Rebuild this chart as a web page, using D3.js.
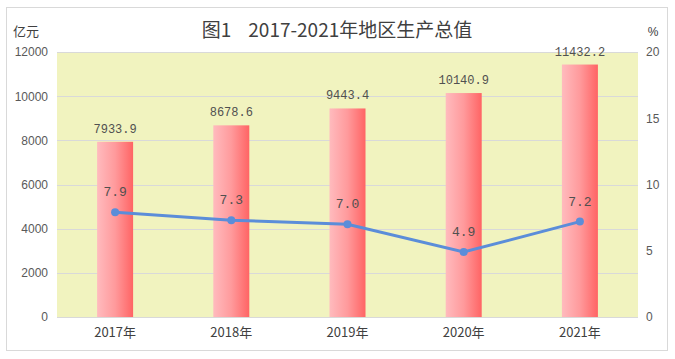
<!DOCTYPE html>
<html><head><meta charset="utf-8">
<script src="https://cdn.jsdelivr.net/npm/d3@7"></script>
<style>body{margin:0;background:#fff}svg{display:block}</style>
</head><body><svg id="c" width="675" height="359"></svg>
<script>
const categories = ["2017年","2018年","2019年","2020年","2021年"];
const gdp = [7933.9, 8678.6, 9443.4, 10140.9, 11432.2];
const gdpLabels = ["7933.9","8678.6","9443.4","10140.9","11432.2"];
const growth = [7.9, 7.3, 7.0, 4.9, 7.2];
const growthLabels = ["7.9","7.3","7.0","4.9","7.2"];
const leftTicks = [0,2000,4000,6000,8000,10000,12000];
const rightTicks = [0,5,10,15,20];

const svg = d3.select("#c");
const m = {l:57, r:638, t:52, b:317};
const font = "'Liberation Sans', Arial, sans-serif";
const cjk = "'Noto Sans CJK SC', sans-serif";
const mono = "'Liberation Mono', monospace";

svg.append("rect").attr("x",6.5).attr("y",7.5).attr("width",661).attr("height",343)
  .attr("fill","#fff").attr("stroke","#d9d9d9");

const x = d3.scaleBand().domain(categories).range([m.l,m.r]);
const yL = d3.scaleLinear().domain([0,12000]).range([m.b,m.t]);
const yR = d3.scaleLinear().domain([0,20]).range([m.b,m.t]);

const defs = svg.append("defs");
const g = defs.append("linearGradient").attr("id","bg").attr("x1","0").attr("x2","1").attr("y1","0").attr("y2","0");
g.append("stop").attr("offset","0").attr("stop-color","#FFBBBE");
g.append("stop").attr("offset","0.5").attr("stop-color","#FF9A9C");
g.append("stop").attr("offset","1").attr("stop-color","#FF6464");

svg.append("rect").attr("x",m.l).attr("y",m.t).attr("width",m.r-m.l).attr("height",m.b-m.t).attr("fill","#F1F3BF");

svg.append("g").selectAll("line").data(leftTicks).join("line")
  .attr("x1",m.l).attr("x2",m.r).attr("y1",d=>Math.round(yL(d))+0.5).attr("y2",d=>Math.round(yL(d))+0.5)
  .attr("stroke","#d9d9d9").attr("stroke-width",1);

const bw = 36;
svg.append("g").selectAll("rect").data(gdp).join("rect")
  .attr("x",(d,i)=>x(categories[i])+x.bandwidth()/2-bw/2)
  .attr("y",d=>yL(d)).attr("width",bw).attr("height",d=>m.b-yL(d))
  .attr("fill","url(#bg)");

svg.append("line").attr("x1",m.l).attr("x2",m.r).attr("y1",m.b+0.5).attr("y2",m.b+0.5).attr("stroke","#d9d9d9");

svg.append("g").selectAll("text").data(gdp).join("text")
  .attr("x",(d,i)=>x(categories[i])+x.bandwidth()/2).attr("y",d=>yL(d)-9)
  .attr("text-anchor","middle").attr("font-family",mono).attr("font-size",12)
  .attr("fill","#505050").text((d,i)=>gdpLabels[i]);

const line = d3.line().x((d,i)=>x(categories[i])+x.bandwidth()/2).y(d=>yR(d));
svg.append("path").datum(growth).attr("d",line).attr("fill","none").attr("stroke","#5B8DD9").attr("stroke-width",3);
svg.append("g").selectAll("circle").data(growth).join("circle")
  .attr("cx",(d,i)=>x(categories[i])+x.bandwidth()/2).attr("cy",d=>yR(d)).attr("r",4).attr("fill","#5B8DD9");
svg.append("g").selectAll("text").data(growth).join("text")
  .attr("x",(d,i)=>x(categories[i])+x.bandwidth()/2).attr("y",d=>yR(d)-16)
  .attr("text-anchor","middle").attr("font-family",mono).attr("font-size",13)
  .attr("fill","#505050").text((d,i)=>growthLabels[i]);

const la = d3.axisLeft(yL).tickValues(leftTicks).tickFormat(d3.format("d")).tickSize(0).tickPadding(9);
const lg = svg.append("g").attr("transform",`translate(${m.l},0)`).call(la);
lg.select(".domain").remove();
lg.selectAll("text").attr("font-family",font).attr("font-size",12).attr("fill","#595959");

const ra = d3.axisRight(yR).tickValues(rightTicks).tickSize(0).tickPadding(8);
const rg = svg.append("g").attr("transform",`translate(${m.r},0)`).call(ra);
rg.select(".domain").remove();
rg.selectAll("text").attr("font-family",font).attr("font-size",12).attr("fill","#595959");

const ba = d3.axisBottom(x).tickSize(0).tickPadding(11);
const bg2 = svg.append("g").attr("transform",`translate(0,${m.b})`).call(ba);
bg2.select(".domain").remove();
bg2.selectAll("text").attr("font-family",cjk).attr("font-size",13).attr("fill","#404040");

svg.append("text").attr("x",337).attr("y",37).attr("text-anchor","middle").style("white-space","pre")
  .attr("font-family",cjk).attr("font-size",19).attr("fill","#404040").text("图1    2017-2021年地区生产总值");
svg.append("text").attr("x",13).attr("y",36).attr("font-family",cjk).attr("font-size",13).attr("fill","#404040").text("亿元");
svg.append("text").attr("x",653).attr("y",36).attr("text-anchor","middle").attr("font-family",font).attr("font-size",12).attr("fill","#404040").text("%");
</script></body></html>
